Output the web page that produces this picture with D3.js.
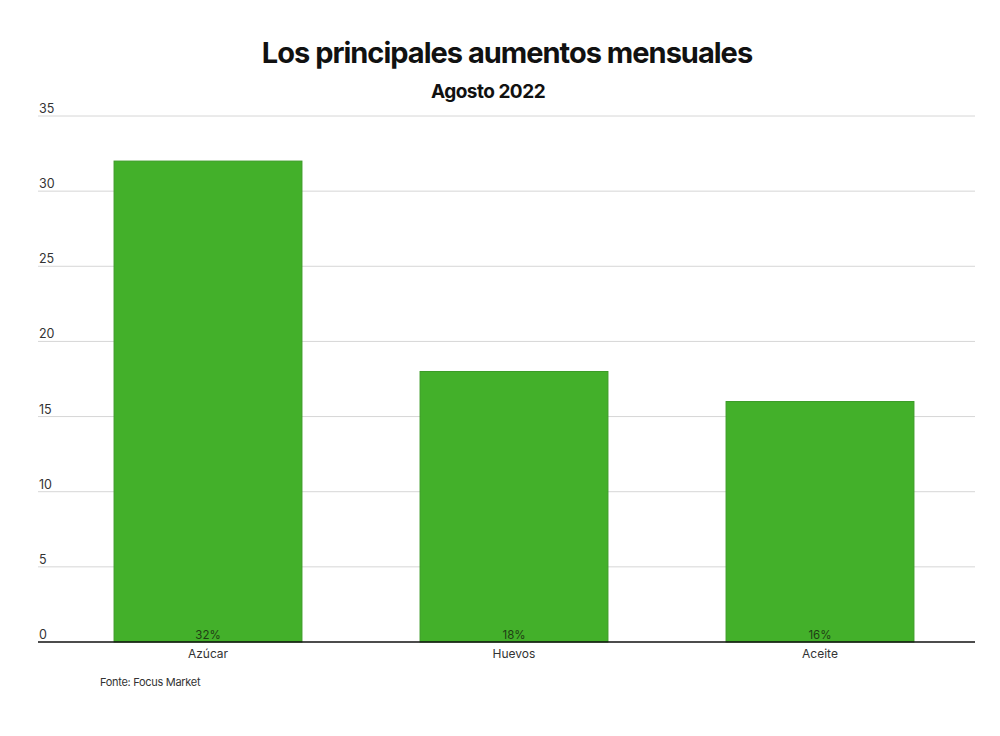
<!DOCTYPE html>
<html>
<head>
<meta charset="utf-8">
<script src="https://cdn.jsdelivr.net/npm/d3@7"></script>
<style>
  body { margin: 0; background: #fff; }
  svg { display: block; }
</style>
</head>
<body>
<div id="chart"></div>
<script>
// Data
const categories = ["Azúcar", "Huevos", "Aceite"];
const values = [32, 18, 16];
const yTicks = [0, 5, 10, 15, 20, 25, 30, 35];

const width = 1000;
const height = 736;
const plotLeft = 38, plotRight = 975;
const plotTop = 116, plotBottom = 642;

const svg = d3.select("#chart")
    .append("svg")
    .attr("width", width)
    .attr("height", height)
    .style("font-family", "Inter, 'Liberation Sans', sans-serif");

// Titles
svg.append("text")
    .attr("x", 507).attr("y", 63)
    .attr("text-anchor", "middle")
    .style("font-size", "29px")
    .style("font-weight", "700")
    .style("letter-spacing", "-1px")
    .style("fill", "#111")
    .text("Los principales aumentos mensuales");

svg.append("text")
    .attr("x", 488).attr("y", 98)
    .attr("text-anchor", "middle")
    .style("font-size", "19px")
    .style("font-weight", "700")
    .style("letter-spacing", "-0.5px")
    .style("fill", "#111")
    .text("Agosto 2022");

// Scales
const x = d3.scaleBand()
    .domain(categories)
    .range([55, 973])
    .paddingInner(0.386)
    .paddingOuter(0.193);

const y = d3.scaleLinear()
    .domain([0, 35])
    .range([plotBottom, plotTop]);

// Grid lines + tick labels
const grid = svg.append("g");
grid.selectAll("line")
    .data(yTicks.filter(t => t > 0))
    .join("line")
    .attr("x1", plotLeft).attr("x2", plotRight)
    .attr("y1", d => y(d)).attr("y2", d => y(d))
    .attr("stroke", "#d6d6d6")
    .attr("stroke-width", 1);

grid.selectAll("text")
    .data(yTicks)
    .join("text")
    .attr("x", plotLeft + 1)
    .attr("y", d => y(d) - 3)
    .style("font-size", "12.5px")
    .style("fill", "#333")
    .text(d => d);

// Bars
svg.append("g")
    .selectAll("rect")
    .data(values)
    .join("rect")
    .attr("x", (d, i) => x(categories[i]))
    .attr("y", d => y(d))
    .attr("width", x.bandwidth())
    .attr("height", d => y(0) - y(d))
    .attr("fill", "#43b02a")
    .attr("stroke", "#3a9a25")
    .attr("stroke-width", 1);

// Value labels inside bars
svg.append("g")
    .selectAll("text")
    .data(values)
    .join("text")
    .attr("x", (d, i) => x(categories[i]) + x.bandwidth() / 2)
    .attr("y", y(0) - 3)
    .attr("text-anchor", "middle")
    .style("font-size", "11.5px")
    .style("fill", "#1f3d14")
    .text(d => d + "%");

// Baseline
svg.append("line")
    .attr("x1", plotLeft).attr("x2", plotRight)
    .attr("y1", y(0)).attr("y2", y(0))
    .attr("stroke", "#111")
    .attr("stroke-width", 1.5);

// Category labels
svg.append("g")
    .selectAll("text")
    .data(categories)
    .join("text")
    .attr("x", d => x(d) + x.bandwidth() / 2)
    .attr("y", y(0) + 16)
    .attr("text-anchor", "middle")
    .style("font-size", "12px")
    .style("fill", "#333")
    .text(d => d);

// Source
svg.append("text")
    .attr("x", 100).attr("y", 686)
    .style("font-size", "11px")
    .style("letter-spacing", "-0.3px")
    .style("fill", "#333")
    .text("Fonte: Focus Market");
</script>
</body>
</html>
